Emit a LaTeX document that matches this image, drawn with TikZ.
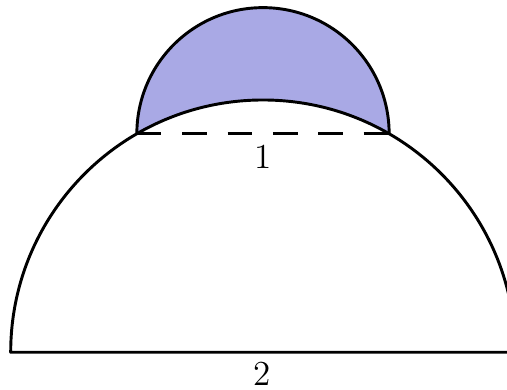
\documentclass[tikz,border=0pt]{standalone}
\definecolor{lunefill}{RGB}{169,169,229}
\begin{document}
\begin{tikzpicture}[x=0.41pt,y=0.41pt,
  outline/.style={line width=1.2pt, line join=round},
  chord/.style={line width=1.2pt, dash pattern=on 10.1pt off 8.5pt},
  lbl/.style={inner sep=0pt, font=\fontsize{14.4}{17}\selectfont}]
\useasboundingbox (0,0) rectangle (507,390);
\coordinate (O) at (263,37.7);
\coordinate (C) at (263,256.2);
\coordinate (A) at (136.85,256.2);
\coordinate (B) at (389.15,256.2);
\coordinate (L) at (10.7,37.7);
\coordinate (R) at (515.3,37.7);
\begin{scope}
\clip (0,0) rectangle (507,390);
% shaded lune
\fill[lunefill] (A) arc[start angle=180, end angle=0, radius=126.15]
  arc[start angle=60, end angle=120, radius=252.3] -- cycle;
% big semicircle
\draw[outline] (R) arc[start angle=0, end angle=180, radius=252.3] -- (R);
% small arc
\draw[outline] (A) arc[start angle=180, end angle=0, radius=126.15];
% chord
\draw[chord] (A) -- (B);
\end{scope}
\node[lbl] (one) at (263,233) {1};
\node[lbl] (two) at (262,16) {2};
\end{tikzpicture}
\end{document}
